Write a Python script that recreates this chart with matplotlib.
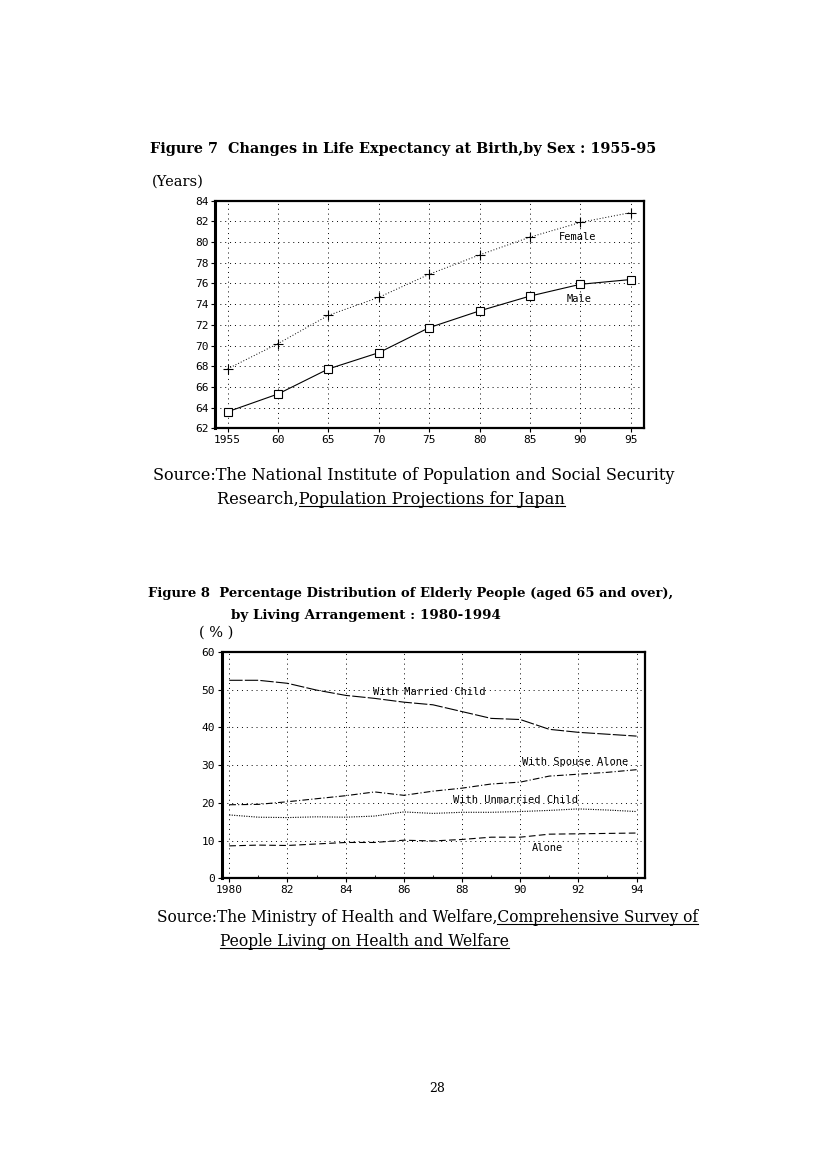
import matplotlib
matplotlib.use('Agg')
import matplotlib.pyplot as plt
from matplotlib.lines import Line2D

# Figure 7: life expectancy at birth
life_years = [1955, 1960, 1965, 1970, 1975, 1980, 1985, 1990, 1995]
life_labels = ['1955', '60', '65', '70', '75', '80', '85', '90', '95']
female = [67.75, 70.19, 72.92, 74.66, 76.89, 78.76, 80.48, 81.90, 82.85]
male = [63.60, 65.32, 67.74, 69.31, 71.73, 73.35, 74.78, 75.92, 76.38]
life_yticks = list(range(62, 85, 2))

# Figure 8: living arrangement of elderly people (%)
living_years = list(range(1980, 1995))
married_child = [52.5, 52.5, 51.7, 49.9, 48.5, 47.7, 46.7, 46.0, 44.2, 42.4,
                 42.1, 39.5, 38.7, 38.2, 37.7]
spouse_alone = [19.5, 19.6, 20.3, 21.1, 21.9, 22.9, 22.0, 23.1, 23.9, 25.0,
                25.5, 27.1, 27.6, 28.1, 28.8]
unmarried_child = [16.8, 16.2, 16.1, 16.3, 16.2, 16.5, 17.6, 17.2, 17.5, 17.5,
                   17.7, 18.0, 18.4, 18.1, 17.7]
alone = [8.6, 8.8, 8.7, 9.1, 9.5, 9.5, 10.1, 9.9, 10.3, 10.9,
         10.9, 11.7, 11.8, 11.9, 12.0]
living_xticks = list(range(1980, 1995, 2))
living_xlabels = ['1980', '82', '84', '86', '88', '90', '92', '94']
living_yticks = list(range(0, 61, 10))

W, H = 827, 1170
SERIF = 'DejaVu Serif'
MONO = 'DejaVu Sans Mono'

fig = plt.figure(figsize=(W / 100, H / 100), dpi=100)
renderer = fig.canvas.get_renderer()


def fx(x):
    return x / W


def fy(y):
    return 1 - y / H


def text_width(s, size, weight):
    probe = fig.text(0, 0, s, fontsize=size, family=SERIF, weight=weight)
    w = probe.get_window_extent(renderer).width
    probe.remove()
    return w


def page_line(x0, x1, y, s, weight='normal', under_from=None, size=None):
    """在页面像素坐标 (x0, y) 处写一行文字，默认按 x1 调整字号，可选下划线。"""
    if size is None:
        size = 10 * (x1 - x0) / text_width(s, 10, weight)
    t = fig.text(fx(x0), fy(y), s, fontsize=size, family=SERIF, weight=weight,
                 va='center', ha='left')
    if under_from is not None:
        bb = t.get_window_extent(renderer)
        start = bb.x0
        if under_from > 0:
            start = bb.x0 + text_width(s[:under_from], size, weight)
        fig.add_artist(Line2D([start / W, bb.x1 / W], [fy(y + 7)] * 2,
                              color='black', lw=0.8))


def style_axes(ax):
    for sp in ax.spines.values():
        sp.set_linewidth(1.6)
    ax.spines['left'].set_linewidth(2.2)
    ax.tick_params(direction='out', length=3, width=0.8, labelsize=8, pad=2)
    for lab in ax.get_xticklabels() + ax.get_yticklabels():
        lab.set_family(MONO)
    ax.grid(True, color='black', lw=0.7, ls=(0, (1, 4)))
    ax.set_axisbelow(True)


# ---- Figure 7 ----
page_line(150, 657, 149, 'Figure 7  Changes in Life Expectancy at Birth,by Sex : 1955-95',
          weight='bold')
page_line(152, None, 182, '(Years)', size=10.5)

ax1 = fig.add_axes([215.3 / W, 1 - 428.3 / H, 428.7 / W, 227.6 / H])
ax1.plot(life_years, female, color='black', lw=0.7, ls=(0, (1, 2)),
         marker='+', ms=6.5, mew=0.8)
ax1.plot(life_years, male, color='black', lw=0.8, ls='-',
         marker='s', ms=5.5, mfc='white', mew=0.8)
ax1.set_xlim(1953.77, 1996.32)
ax1.set_ylim(62, 84)
ax1.set_xticks(life_years, life_labels)
ax1.set_yticks(life_yticks)
style_axes(ax1)
ax1.text(1987.9, 80.5, 'Female', family=MONO, fontsize=7.5, va='center')
ax1.text(1988.6, 74.5, 'Male', family=MONO, fontsize=7.5, va='center')

page_line(153, 675, 475, 'Source:The National Institute of Population and Social Security')
page_line(217, 565, 499, 'Research,Population Projections for Japan', under_from=9)

# ---- Figure 8 ----
page_line(148, 676, 593,
          'Figure 8  Percentage Distribution of Elderly People (aged 65 and over),',
          weight='bold')
page_line(231, 500, 616, 'by Living Arrangement : 1980-1994', weight='bold')
page_line(199, None, 633, '( % )', size=10.5)

ax2 = fig.add_axes([221.7 / W, 1 - 878.3 / H, 423.3 / W, 226.3 / H])
ax2.plot(living_years, married_child, color='black', lw=0.8, ls=(0, (12, 2)))
ax2.plot(living_years, spouse_alone, color='black', lw=0.8, ls=(0, (6, 2, 1, 2)))
ax2.plot(living_years, unmarried_child, color='black', lw=0.8, ls=(0, (1, 1.2)))
ax2.plot(living_years, alone, color='black', lw=0.8, ls=(0, (6, 3)))
ax2.set_xlim(1979.74, 1994.29)
ax2.set_ylim(0, 60)
ax2.set_xticks(living_xticks, living_xlabels)
ax2.set_yticks(living_yticks)
ax2.set_xticks(range(1981, 1995, 2), minor=True)
ax2.tick_params(which='minor', direction='in', length=2, width=0.6)
style_axes(ax2)
ax2.text(1984.94, 49.4, 'With Married Child', family=MONO, fontsize=7.5, va='center')
ax2.text(1990.05, 30.8, 'With Spouse Alone', family=MONO, fontsize=7.5, va='center')
ax2.text(1987.69, 20.8, 'With Unmarried Child', family=MONO, fontsize=7.5, va='center')
ax2.text(1990.41, 8.0, 'Alone', family=MONO, fontsize=7.5, va='center')

page_line(157, 704, 917, 'Source:The Ministry of Health and Welfare,Comprehensive Survey of',
          under_from=42)
page_line(220, 512, 941, 'People Living on Health and Welfare', under_from=0)

fig.text(fx(437), fy(1088), '28', family=SERIF, fontsize=9, ha='center', va='center')

fig.savefig('out.png', dpi=100)
